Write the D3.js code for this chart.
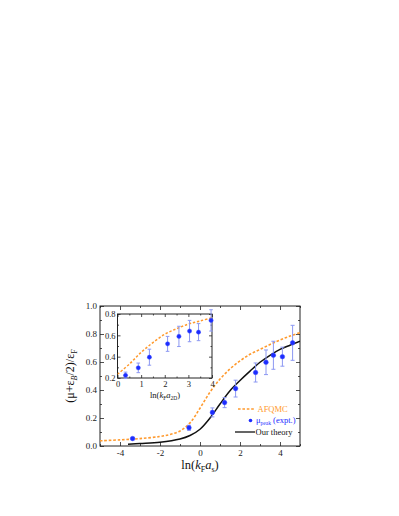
<!DOCTYPE html>
<html>
<head>
<meta charset="utf-8">
<script src="https://cdn.jsdelivr.net/npm/d3@7"></script>
<style>
  body { margin: 0; background: #fff; }
  svg text { font-family: "Times New Roman", "Liberation Serif", serif; }
</style>
</head>
<body>
<svg id="chart"></svg>
<script>
// main panel, measured points mu_peak (expt.)
const exptX = [-3.37, -0.55, 0.62, 1.23, 1.78, 2.78, 3.3, 3.67, 4.12, 4.63];
const exptY = [0.053, 0.13, 0.24, 0.31, 0.41, 0.525, 0.598, 0.648, 0.638, 0.737];
const exptErr = [0.008, 0.018, 0.032, 0.036, 0.06, 0.068, 0.088, 0.1, 0.068, 0.125];

// AFQMC curve (dashed orange)
const afqmcX = [-5, -4, -3, -2, -1.5, -1, -0.5, 0, 0.5, 1, 1.5, 2, 2.5, 3, 3.5, 4, 4.5, 5];
const afqmcY = [0.037, 0.044, 0.053, 0.068, 0.082, 0.107, 0.165, 0.27, 0.385, 0.478, 0.55, 0.608, 0.655, 0.69, 0.725, 0.757, 0.785, 0.81];

// our theory (solid black)
const theoryX = [-3.6, -3, -2, -1, -0.5, 0, 0.5, 1, 1.5, 2, 2.5, 3, 3.5, 4, 4.5, 5];
const theoryY = [0.013, 0.018, 0.027, 0.05, 0.075, 0.12, 0.2, 0.3, 0.395, 0.468, 0.535, 0.598, 0.648, 0.69, 0.72, 0.748];

// inset: vs ln(kF a2D)
const insetPtsX = [0.34, 0.88, 1.35, 2.12, 2.6, 3.05, 3.43, 3.96];
const insetPtsY = [0.225, 0.295, 0.395, 0.52, 0.59, 0.64, 0.63, 0.74];
const insetErr = [0.03, 0.045, 0.075, 0.07, 0.095, 0.1, 0.08, 0.1];
const insetAfqmcX = [0, 0.5, 1, 1.5, 2, 2.5, 3, 3.5, 4];
const insetAfqmcY = [0.235, 0.33, 0.44, 0.532, 0.61, 0.662, 0.705, 0.735, 0.765];

// ticks
const mainXTicks = [-4, -2, 0, 2, 4];
const mainXMinor = [-5, -3, -1, 1, 3, 5];
const mainYTicks = [0, 0.2, 0.4, 0.6, 0.8, 1.0];
const mainYMinor = [0.1, 0.3, 0.5, 0.7, 0.9];
const insetXTicks = [0, 1, 2, 3, 4];
const insetXMinor = [0.5, 1.5, 2.5, 3.5];
const insetYTicks = [0.2, 0.4, 0.6, 0.8];
const insetYMinor = [0.3, 0.5, 0.7];

const W = 399, H = 516;
const orange = "#ff9a2e", blue = "#1c2cff", errBlue = "#8c98f2";
const serif = '"Times New Roman", "Liberation Serif", serif';

const svg = d3.select("#chart").attr("width", W).attr("height", H);

function panel(g, box, xDom, yDom, opt) {
  const x = d3.scaleLinear().domain(xDom).range([box.x0, box.x1]);
  const y = d3.scaleLinear().domain(yDom).range([box.y1, box.y0]);
  const fmtX = d3.format("d"), fmtY = d3.format(".1f");

  const addAxis = (axis, tr, vals, size, fmt, pad) => {
    const a = g.append("g").attr("transform", tr)
      .call(axis.tickValues(vals).tickSize(size).tickPadding(pad).tickFormat(fmt))
      .attr("font-family", serif);
    a.select(".domain").remove();
    a.selectAll("line").attr("stroke", "#222").attr("stroke-width", 0.8);
    a.selectAll("text").attr("fill", "#222").style("font-size", opt.tickFont + "px");
    return a;
  };
  // bottom / left with labels, plus minor ticks
  addAxis(d3.axisBottom(x), `translate(0,${box.y1})`, opt.xt, -opt.major, v => fmtX(v).replace("−", "-"), opt.xPad);
  addAxis(d3.axisBottom(x), `translate(0,${box.y1})`, opt.xm, -opt.minor, "", 0);
  addAxis(d3.axisLeft(y), `translate(${box.x0},0)`, opt.yt, -opt.major, fmtY, opt.yPad);
  addAxis(d3.axisLeft(y), `translate(${box.x0},0)`, opt.ym, -opt.minor, "", 0);
  // mirrored top / right
  addAxis(d3.axisTop(x), `translate(0,${box.y0})`, opt.xt, -opt.major, "", 0);
  addAxis(d3.axisTop(x), `translate(0,${box.y0})`, opt.xm, -opt.minor, "", 0);
  addAxis(d3.axisRight(y), `translate(${box.x1},0)`, opt.yt, -opt.major, "", 0);
  addAxis(d3.axisRight(y), `translate(${box.x1},0)`, opt.ym, -opt.minor, "", 0);

  g.append("rect")
    .attr("x", box.x0).attr("y", box.y0)
    .attr("width", box.x1 - box.x0).attr("height", box.y1 - box.y0)
    .attr("fill", "none").attr("stroke", "#222").attr("stroke-width", 1);
  return { x, y };
}

// ---- main panel
const mainBox = { x0: 100, x1: 300, y0: 306, y1: 446 };
const gMain = svg.append("g");

svg.append("clipPath").attr("id", "clipMain").append("rect")
  .attr("x", mainBox.x0).attr("y", mainBox.y0).attr("width", 200).attr("height", 140);

const m = panel(gMain, mainBox, [-5, 5], [0, 1], {
  xt: mainXTicks, xm: mainXMinor, yt: mainYTicks, ym: mainYMinor,
  major: 4, minor: 2, tickFont: 9, xPad: 4, yPad: 3
});

const curves = gMain.append("g").attr("clip-path", "url(#clipMain)");
const lineMain = d3.line().x(d => m.x(d[0])).y(d => m.y(d[1])).curve(d3.curveCatmullRom);

curves.append("path")
  .attr("d", lineMain(afqmcX.map((v, i) => [v, afqmcY[i]])))
  .attr("fill", "none").attr("stroke", orange).attr("stroke-width", 1.6)
  .attr("stroke-dasharray", "2.6,1.8");

curves.append("path")
  .attr("d", lineMain(theoryX.map((v, i) => [v, theoryY[i]])))
  .attr("fill", "none").attr("stroke", "#111").attr("stroke-width", 1.5);

function drawPoints(g, sc, xs, ys, es, r, cap) {
  const pts = xs.map((v, i) => ({ x: v, y: ys[i], e: es[i] }));
  const eg = g.append("g").attr("stroke", errBlue).attr("stroke-width", 1);
  eg.selectAll(".bar").data(pts).enter().append("line")
    .attr("x1", d => sc.x(d.x)).attr("x2", d => sc.x(d.x))
    .attr("y1", d => sc.y(d.y - d.e)).attr("y2", d => sc.y(d.y + d.e));
  eg.selectAll(".capT").data(pts).enter().append("line")
    .attr("x1", d => sc.x(d.x) - cap).attr("x2", d => sc.x(d.x) + cap)
    .attr("y1", d => sc.y(d.y + d.e)).attr("y2", d => sc.y(d.y + d.e));
  eg.selectAll(".capB").data(pts).enter().append("line")
    .attr("x1", d => sc.x(d.x) - cap).attr("x2", d => sc.x(d.x) + cap)
    .attr("y1", d => sc.y(d.y - d.e)).attr("y2", d => sc.y(d.y - d.e));
  g.append("g").selectAll("circle").data(pts).enter().append("circle")
    .attr("cx", d => sc.x(d.x)).attr("cy", d => sc.y(d.y))
    .attr("r", r).attr("fill", blue).attr("stroke", "#3a4cff").attr("stroke-width", 0.5);
}
drawPoints(gMain, m, exptX, exptY, exptErr, 2.3, 2);

// axis titles
const xTitle = svg.append("text").attr("x", 200).attr("y", 469)
  .attr("text-anchor", "middle").style("font-size", "12.5px").attr("fill", "#111");
xTitle.append("tspan").text("ln(");
xTitle.append("tspan").style("font-style", "italic").text("k");
xTitle.append("tspan").attr("dy", 2.5).style("font-size", "8px").text("F");
xTitle.append("tspan").attr("dy", -2.5).style("font-style", "italic").text("a");
xTitle.append("tspan").attr("dy", 2.5).style("font-size", "8px").text("s");
xTitle.append("tspan").attr("dy", -2.5).text(")");

const yTitle = svg.append("text")
  .attr("transform", "translate(74,376) rotate(-90)")
  .attr("text-anchor", "middle").style("font-size", "12px").attr("fill", "#111");
yTitle.append("tspan").text("(μ+ε");
yTitle.append("tspan").attr("dy", 2.5).style("font-size", "8px").style("font-style", "italic").text("B");
yTitle.append("tspan").attr("dy", -2.5).text("/2)/ε");
yTitle.append("tspan").attr("dy", 2.5).style("font-size", "8px").text("F");

// legend
const lg = svg.append("g").style("font-size", "8.5px");
lg.append("line").attr("x1", 238).attr("x2", 255).attr("y1", 409).attr("y2", 409)
  .attr("stroke", orange).attr("stroke-width", 1.6).attr("stroke-dasharray", "2.6,1.8");
lg.append("text").attr("x", 257.5).attr("y", 412).attr("fill", orange).text("AFQMC");
lg.append("circle").attr("cx", 250.5).attr("cy", 420.5).attr("r", 1.8).attr("fill", blue);
const lt = lg.append("text").attr("x", 256).attr("y", 423).attr("fill", blue);
lt.append("tspan").text("μ");
lt.append("tspan").attr("dy", 2).style("font-size", "5.5px").text("peak");
lt.append("tspan").attr("dy", -2).text(" (expt.)");
lg.append("line").attr("x1", 235).attr("x2", 255).attr("y1", 432).attr("y2", 432)
  .attr("stroke", "#111").attr("stroke-width", 1.3);
lg.append("text").attr("x", 255.5).attr("y", 435).attr("fill", "#111").text("Our theory");

// ---- inset
const inBox = { x0: 117.5, x1: 212, y0: 314, y1: 378 };
const gIn = svg.append("g");
gIn.append("rect").attr("x", inBox.x0).attr("y", inBox.y0)
  .attr("width", inBox.x1 - inBox.x0).attr("height", inBox.y1 - inBox.y0).attr("fill", "#fff");
const s = panel(gIn, inBox, [0, 4], [0.2, 0.8], {
  xt: insetXTicks, xm: insetXMinor, yt: insetYTicks, ym: insetYMinor,
  major: 3, minor: 1.5, tickFont: 8.5, xPad: 3, yPad: 2
});
svg.append("clipPath").attr("id", "clipIn").append("rect")
  .attr("x", inBox.x0).attr("y", inBox.y0)
  .attr("width", inBox.x1 - inBox.x0).attr("height", inBox.y1 - inBox.y0);
const lineIn = d3.line().x(d => s.x(d[0])).y(d => s.y(d[1])).curve(d3.curveCatmullRom);
gIn.append("path").attr("clip-path", "url(#clipIn)")
  .attr("d", lineIn(insetAfqmcX.map((v, i) => [v, insetAfqmcY[i]])))
  .attr("fill", "none").attr("stroke", orange).attr("stroke-width", 1.5)
  .attr("stroke-dasharray", "2.4,1.8");
drawPoints(gIn, s, insetPtsX, insetPtsY, insetErr, 2.1, 1.8);

const inTitle = svg.append("text").attr("x", 165).attr("y", 398)
  .attr("text-anchor", "middle").style("font-size", "8.5px").attr("fill", "#111");
inTitle.append("tspan").text("ln(");
inTitle.append("tspan").style("font-style", "italic").text("k");
inTitle.append("tspan").attr("dy", 2).style("font-size", "5.5px").text("F");
inTitle.append("tspan").attr("dy", -2).style("font-style", "italic").text("a");
inTitle.append("tspan").attr("dy", 2).style("font-size", "5.5px").text("2D");
inTitle.append("tspan").attr("dy", -2).text(")");
</script>
</body>
</html>
